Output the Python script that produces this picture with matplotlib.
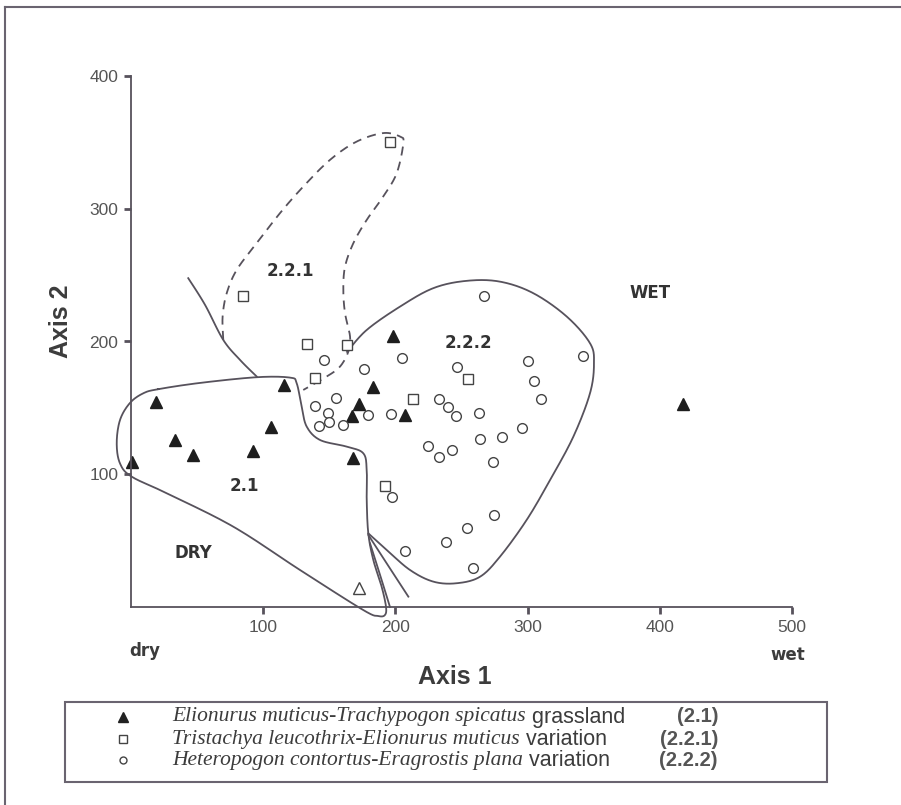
import numpy as np
import matplotlib
matplotlib.use('Agg')
import matplotlib.pyplot as plt
from matplotlib.patches import Rectangle

plt.rcParams['font.family'] = ['Liberation Sans', 'DejaVu Sans']

# --- point data (Axis 1, Axis 2) ---
tri_x = [1, 19, 33, 47, 92.5, 105.7, 116, 198, 182.8, 172.7, 167.2, 207.5, 168.2, 417.5]
tri_y = [109.5, 154.7, 125.8, 114.5, 117.6, 135.4, 167.3, 204.2, 166, 153, 143.9, 144.7, 112.1, 153]

sq_x = [84.9, 195.9, 132.9, 163.4, 139.2, 213.5, 255.1, 192.1]
sq_y = [234.6, 350.4, 198, 197.2, 172.8, 156.5, 171.6, 91.4]

circ_x = [267.3, 204.8, 246.4, 300.1, 342.1, 305.1, 309.9, 233, 240, 245.6, 263.5, 295.8,
          280.4, 264.2, 224.4, 233, 243, 274.1, 274.8, 254.4, 238.5, 207.3, 258.7, 197.2,
          196.4, 179, 176.2, 146.2, 155.1, 139.4, 148.8, 150, 142.4, 160.6]
circ_y = [234.4, 187.9, 181.1, 185.6, 189.1, 170.5, 156.7, 156.5, 150.9, 143.9, 146.4, 135.1,
          127.9, 126.6, 121.6, 113.3, 118.3, 109, 69.3, 59.3, 49, 42.2, 29.2, 83.1,
          145.4, 144.7, 179.4, 186.1, 157.3, 151.7, 146.4, 139.2, 136.4, 137.2]

open_tri_x = [172.5]
open_tri_y = [14.3]

# --- hand drawn group boundaries (Axis units) ---
g21_x = [20.7, 52.2, 95.1, 120.3, 125.3, 129.1, 132.9, 143, 163.2, 175.7, 178.3, 178.3, 179.5,
         183.3, 189.6, 192.9, 192.1, 187.1, 175.7, 127.8, 77.4, 27, 0.5, -8.3, -10.8, -8.3, -0.8, 9.3]
g21_y = [164.1, 168.8, 173.1, 172.8, 168.6, 150.9, 135.9, 125.8, 120.8, 115.8, 103.2, 80.6, 55.5,
         35.4, 15.3, 0.2, -6, -6.8, -2.3, 27.9, 60.5, 85.7, 98.2, 108.1, 123.4, 140.9, 153.7, 161]

g221_x = [69.8, 69.3, 72.4, 80, 95.1, 112.7, 130.3, 150.5, 170.7, 190.8, 203.5, 206, 201, 190.8,
          178.3, 168.2, 161.9, 160.6, 161.9, 165.7, 164.4, 158.1, 148, 130.3]
g221_y = [201.2, 218.8, 236.4, 254, 274.1, 296.7, 316.7, 336.8, 350.6, 357, 354.4, 349.4, 326.8,
          309.2, 291.6, 274.1, 256.4, 238.9, 221.3, 203.7, 192.4, 181.1, 173.6, 163.5]

g222_x = [163.4, 178.3, 203.5, 228.7, 253.9, 279.1, 304.3, 329.6, 347.2, 350.2, 347.2, 334.6,
          317, 299.3, 279.1, 264, 246.4, 228.7, 211, 193.4, 179.5]
g222_y = [192.2, 208.7, 226.3, 240.2, 245.7, 245.1, 236.4, 218.8, 198.7, 183.6, 161, 128.3,
          95.7, 65.6, 37.9, 22.8, 17.9, 19.1, 27.9, 43, 55.5]

split_x = [43.3, 56, 69.8, 82.5, 95.1]
split_y = [247.7, 227.6, 201.2, 186.1, 173.6]

lineA_x = [179.5, 193.4, 209.8]
lineA_y = [54.3, 32.9, 7.8]
lineB_x = [180.8, 188.4, 195.9]
lineB_y = [48, 24.1, 0]

x_ticks = [100, 200, 300, 400, 500]
y_ticks = [100, 200, 300, 400]

legend_rows = [
    ('^', 'Elionurus muticus-Trachypogon spicatus', ' grassland', '(2.1)'),
    ('s', 'Tristachya leucothrix-Elionurus muticus', ' variation', '(2.2.1)'),
    ('o', 'Heteropogon contortus-Eragrostis plana', ' variation', '(2.2.2)'),
]


def smooth(xs, ys, closed=False, n=20):
    # catmull-rom through the traced points
    P = np.column_stack([xs, ys]).astype(float)
    if closed:
        P = np.vstack([P[-1], P, P[0], P[1]])
    else:
        P = np.vstack([P[0], P, P[-1]])
    t = np.linspace(0, 1, n, endpoint=False)[:, None]
    out = []
    for i in range(1, len(P) - 2):
        p0, p1, p2, p3 = P[i - 1], P[i], P[i + 1], P[i + 2]
        out.append(0.5 * (2 * p1 + (-p0 + p2) * t + (2 * p0 - 5 * p1 + 4 * p2 - p3) * t ** 2
                          + (-p0 + 3 * p1 - 3 * p2 + p3) * t ** 3))
    out.append(P[-2][None])
    c = np.vstack(out)
    return c[:, 0], c[:, 1]


LINE = '#57525c'
TXT = '#3c3c3c'

fig = plt.figure(figsize=(9.01, 8.05), dpi=100)
ax = fig.add_axes([131 / 901, 1 - 607 / 805, 661 / 901, 531 / 805])
ax.set_xlim(0, 500)
ax.set_ylim(0, 400)
for s in ['top', 'right']:
    ax.spines[s].set_visible(False)
for s in ['left', 'bottom']:
    ax.spines[s].set_color(LINE)
    ax.spines[s].set_linewidth(1.3)
ax.set_xticks(x_ticks)
ax.set_yticks(y_ticks)
ax.tick_params(length=5, width=2, color=LINE, labelsize=12.5, labelcolor='#555555', pad=4)

kw = dict(color=LINE, lw=1.3, clip_on=False)
ax.plot(*smooth(g21_x, g21_y, closed=True), **kw)
ax.plot(*smooth(g221_x, g221_y), ls=(0, (5, 3.5)), **kw)
ax.plot(*smooth(g222_x, g222_y), **kw)
ax.plot(*smooth(split_x, split_y), **kw)
ax.plot(*smooth(lineA_x, lineA_y), **kw)
ax.plot(*smooth(lineB_x, lineB_y), **kw)

ax.plot(tri_x, tri_y, ls='none', marker='^', ms=8, mfc='#1e1e1e', mec='#1e1e1e', clip_on=False)
ax.plot(sq_x, sq_y, ls='none', marker='s', ms=6.5, mfc='white', mec='#444444', mew=1)
ax.plot(circ_x, circ_y, ls='none', marker='o', ms=7, mfc='white', mec='#444444', mew=1)
ax.plot(open_tri_x, open_tri_y, ls='none', marker='^', ms=8, mfc='white', mec='#444444', mew=1)

lab = dict(fontsize=12, fontweight='bold', family='DejaVu Sans', color='#333333',
           ha='center', va='center')
ax.text(120.3, 253.2, '2.2.1', **lab)
ax.text(254.9, 198.9, '2.2.2', **lab)
ax.text(85.5, 91.2, '2.1', **lab)
ax.text(46.9, 40.7, 'DRY', **lab)
ax.text(392.6, 236.6, 'WET', **lab)

fig.text(455 / 901, 1 - 677 / 805, 'Axis 1', fontsize=18, fontweight='bold', color=TXT,
         ha='center', va='center')
fig.text(61 / 901, 1 - 321 / 805, 'Axis 2', fontsize=18, fontweight='bold', color=TXT,
         ha='center', va='center', rotation=90)
fig.text(145 / 901, 1 - 651 / 805, 'dry', fontsize=12, fontweight='bold', family='DejaVu Sans',
         color=TXT, ha='center', va='center')
fig.text(788 / 901, 1 - 655 / 805, 'wet', fontsize=12, fontweight='bold', family='DejaVu Sans',
         color=TXT, ha='center', va='center')

# outer frame (top and left edges of the scan)
fig.add_artist(plt.Line2D([5 / 901, 5 / 901], [0, 1 - 7 / 805], transform=fig.transFigure,
                          color='#6a6470', lw=1.5))
fig.add_artist(plt.Line2D([5 / 901, 1], [1 - 7 / 805, 1 - 7 / 805], transform=fig.transFigure,
                          color='#6a6470', lw=1.5))

# legend box
fig.add_artist(Rectangle((65 / 901, 1 - 782 / 805), 762 / 901, 80 / 805, transform=fig.transFigure,
                         fill=False, ec='#6a6470', lw=1.5))
fig.canvas.draw()
r = fig.canvas.get_renderer()
row_y = [717, 739, 760]
for (mk, ital, plain, grp), py in zip(legend_rows, row_y):
    yf = 1 - py / 805
    if mk == '^':
        fig.lines.append(plt.Line2D([123 / 901], [yf], marker='^', ms=6.5, mfc='#222222', mec='#222222',
                                    transform=fig.transFigure, ls='none'))
    else:
        fig.lines.append(plt.Line2D([123 / 901], [yf], marker=mk, ms=6 if mk == 's' else 5,
                                    mfc='white', mec='#444444', mew=1,
                                    transform=fig.transFigure, ls='none'))
    t1 = fig.text(172 / 901, yf, ital, fontsize=15.5, family='Liberation Serif', style='italic',
                  color=TXT, ha='left', va='center')
    x1 = t1.get_window_extent(r).x1
    fig.text(x1 / 901, yf, plain, fontsize=15.5, color=TXT, ha='left', va='center')
    fig.text(718 / 901, yf, grp, fontsize=14.5, fontweight='bold', color='#555555',
             ha='right', va='center')

fig.savefig('out.png', dpi=100)
